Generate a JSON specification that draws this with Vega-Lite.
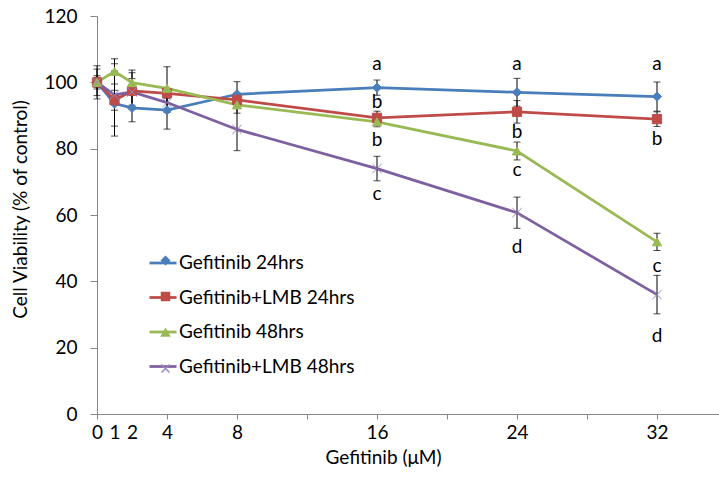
{
  "$schema": "https://vega.github.io/schema/vega-lite/v6.json",
  "width": 623,
  "height": 398,
  "autosize": "none",
  "padding": {"left": 97, "top": 16, "right": 0, "bottom": 64},
  "background": "white",
  "config": {
    "view": {"stroke": null},
    "font": "Lato",
    "axis": {
      "grid": false,
      "domainColor": "#868686",
      "tickColor": "#868686",
      "labelFont": "Lato",
      "labelFontSize": 19,
      "labelColor": "#000000",
      "titleFont": "Lato",
      "titleFontSize": 19,
      "titleFontWeight": "normal",
      "titleColor": "#000000"
    }
  },
  "datasets": {
    "pts": [
      {"s": "Gefitinib 24hrs", "x": 0, "y": 100, "lo": 95, "hi": 105},
      {"s": "Gefitinib 24hrs", "x": 1, "y": 93.6, "lo": 83.8, "hi": 103.4},
      {"s": "Gefitinib 24hrs", "x": 2, "y": 92.3, "lo": 88.1, "hi": 96.5},
      {"s": "Gefitinib 24hrs", "x": 4, "y": 91.6, "lo": 85.9, "hi": 97.3},
      {"s": "Gefitinib 24hrs", "x": 8, "y": 96.4, "lo": 92.6, "hi": 100.2},
      {"s": "Gefitinib 24hrs", "x": 16, "y": 98.4, "lo": 96.1, "hi": 100.7},
      {"s": "Gefitinib 24hrs", "x": 24, "y": 97.0, "lo": 92.8, "hi": 101.2},
      {"s": "Gefitinib 24hrs", "x": 32, "y": 95.7, "lo": 91.3, "hi": 100.1},
      {"s": "Gefitinib+LMB 24hrs", "x": 0, "y": 100, "lo": 96, "hi": 104},
      {"s": "Gefitinib+LMB 24hrs", "x": 1, "y": 94.6, "lo": 91.6, "hi": 97.6},
      {"s": "Gefitinib+LMB 24hrs", "x": 2, "y": 97.4, "lo": 91.9, "hi": 102.9},
      {"s": "Gefitinib+LMB 24hrs", "x": 4, "y": 96.7, "lo": 95.2, "hi": 98.2},
      {"s": "Gefitinib+LMB 24hrs", "x": 8, "y": 94.7, "lo": 92.7, "hi": 96.7},
      {"s": "Gefitinib+LMB 24hrs", "x": 16, "y": 89.3, "lo": 87.3, "hi": 91.3},
      {"s": "Gefitinib+LMB 24hrs", "x": 24, "y": 91.1, "lo": 87.7, "hi": 94.5},
      {"s": "Gefitinib+LMB 24hrs", "x": 32, "y": 88.9, "lo": 86.7, "hi": 91.1},
      {"s": "Gefitinib 48hrs", "x": 0, "y": 100, "lo": 98.5, "hi": 101.5},
      {"s": "Gefitinib 48hrs", "x": 1, "y": 103.3, "lo": 99.5, "hi": 107.1},
      {"s": "Gefitinib 48hrs", "x": 2, "y": 99.9, "lo": 96.1, "hi": 103.7},
      {"s": "Gefitinib 48hrs", "x": 4, "y": 98.2, "lo": 91.7, "hi": 104.7},
      {"s": "Gefitinib 48hrs", "x": 8, "y": 93.2, "lo": 90.7, "hi": 95.7},
      {"s": "Gefitinib 48hrs", "x": 16, "y": 88.1, "lo": 86.6, "hi": 89.6},
      {"s": "Gefitinib 48hrs", "x": 24, "y": 79.3, "lo": 76.6, "hi": 82.0},
      {"s": "Gefitinib 48hrs", "x": 32, "y": 51.9, "lo": 49.3, "hi": 54.5},
      {"s": "Gefitinib+LMB 48hrs", "x": 0, "y": 100, "lo": 98, "hi": 102},
      {"s": "Gefitinib+LMB 48hrs", "x": 1, "y": 96.2, "lo": 86.8, "hi": 105.6},
      {"s": "Gefitinib+LMB 48hrs", "x": 2, "y": 97.1, "lo": 93.1, "hi": 101.1},
      {"s": "Gefitinib+LMB 48hrs", "x": 4, "y": 93.9, "lo": 90.9, "hi": 96.9},
      {"s": "Gefitinib+LMB 48hrs", "x": 8, "y": 85.8, "lo": 79.4, "hi": 92.2},
      {"s": "Gefitinib+LMB 48hrs", "x": 16, "y": 74.0, "lo": 70.3, "hi": 77.7},
      {"s": "Gefitinib+LMB 48hrs", "x": 24, "y": 60.7, "lo": 56.0, "hi": 65.4},
      {"s": "Gefitinib+LMB 48hrs", "x": 32, "y": 36.0, "lo": 30.2, "hi": 41.8}
    ],
    "letters": [
      {"x": 16, "y": 103.7, "t": "a"},
      {"x": 16, "y": 92.4, "t": "b"},
      {"x": 16, "y": 80.9, "t": "b"},
      {"x": 16, "y": 64.5, "t": "c"},
      {"x": 24, "y": 103.7, "t": "a"},
      {"x": 24, "y": 83.1, "t": "b"},
      {"x": 24, "y": 71.7, "t": "c"},
      {"x": 24, "y": 48.6, "t": "d"},
      {"x": 32, "y": 103.7, "t": "a"},
      {"x": 32, "y": 81.1, "t": "b"},
      {"x": 32, "y": 42.8, "t": "c"},
      {"x": 32, "y": 21.7, "t": "d"}
    ]
  },
  "layer": [
    {
      "data": {"name": "pts"},
      "mark": {"type": "line", "strokeWidth": 2.75},
      "encoding": {
        "x": {
          "field": "x", "type": "quantitative",
          "scale": {"domain": [0, 35.6], "nice": false, "zero": false},
          "axis": {
            "values": [0, 1, 2, 4, 8, 12, 16, 20, 24, 28, 32],
            "labelExpr": "(datum.value == 12 || datum.value == 20 || datum.value == 28) ? '' : datum.label",
            "tickOpacity": {"condition": {"test": "datum.value == 1 || datum.value == 2", "value": 0}, "value": 1},
            "tickSize": 5,
            "labelPadding": 4,
            "labelOverlap": false,
            "labelFlush": false,
            "labelBound": false,
            "title": "Gefitinib (μM)",
            "titleX": 286,
            "titleY": 43,
            "titleBaseline": "middle"
          }
        },
        "y": {
          "field": "y", "type": "quantitative",
          "scale": {"domain": [0, 120], "nice": false},
          "axis": {
            "values": [0, 20, 40, 60, 80, 100, 120],
            "tickSize": 7,
            "labelPadding": 13,
            "title": "Cell Viability (% of control)",
            "titleX": -77,
            "titleY": 193,
            "titleAngle": 270,
            "titleBaseline": "middle"
          }
        },
        "color": {
          "field": "s", "type": "nominal",
          "sort": ["Gefitinib 24hrs", "Gefitinib+LMB 24hrs", "Gefitinib 48hrs", "Gefitinib+LMB 48hrs"],
          "scale": {"range": ["#4A7EBB", "#BE4B48", "#98B954", "#7D60A0"]},
          "legend": {
            "orient": "none",
            "legendX": 51,
            "legendY": 232,
            "title": null,
            "padding": 0,
            "labelFont": "Lato",
            "labelFontSize": 19,
            "labelColor": "#000000",
            "labelLimit": 400,
            "symbolType": "stroke",
            "symbolSize": 729,
            "symbolStrokeWidth": 2.75,
            "symbolOffset": 0,
            "labelOffset": 1,
            "rowPadding": 9.5
          }
        }
      }
    },
    {
      "data": {"name": "pts"},
      "mark": {"type": "errorbar", "ticks": {"size": 7, "color": "#000000", "thickness": 1}, "rule": {"color": "#000000", "strokeWidth": 1}},
      "encoding": {
        "x": {"field": "x", "type": "quantitative"},
        "y": {"field": "lo", "type": "quantitative", "title": "Cell Viability (% of control)"},
        "y2": {"field": "hi"}
      }
    },
    {
      "data": {"name": "pts"},
      "mark": {"type": "point", "filled": true, "size": 85, "strokeWidth": 1, "opacity": 1},
      "encoding": {
        "x": {"field": "x", "type": "quantitative"},
        "y": {"field": "y", "type": "quantitative"},
        "fill": {
          "field": "s", "type": "nominal",
          "scale": {
            "domain": ["Gefitinib 24hrs", "Gefitinib+LMB 24hrs", "Gefitinib 48hrs", "Gefitinib+LMB 48hrs"],
            "range": ["#4A7EBB", "#BE4B48", "#98B954", "#7D60A0"]
          },
          "legend": {
            "orient": "none",
            "legendX": 59,
            "legendY": 235,
            "title": null,
            "padding": 0,
            "labelExpr": "' '",
            "labelFont": "Lato",
            "labelFontSize": 19,
            "symbolSize": 64,
            "symbolStrokeWidth": 1.5,
            "symbolOffset": 0,
            "rowPadding": 16
          }
        },
        "shape": {
          "field": "s", "type": "nominal",
          "scale": {
            "domain": ["Gefitinib 24hrs", "Gefitinib+LMB 24hrs", "Gefitinib 48hrs", "Gefitinib+LMB 48hrs"],
            "range": ["diamond", "square", "triangle-up", "M-1,-1L1,1M-1,1L1,-1"]
          }
        },
        "stroke": {
          "field": "s", "type": "nominal",
          "scale": {
            "domain": ["Gefitinib 24hrs", "Gefitinib+LMB 24hrs", "Gefitinib 48hrs", "Gefitinib+LMB 48hrs"],
            "range": ["#4A7EBB", "#BE4B48", "#98B954", "#9A86C0"]
          }
        }
      }
    },
    {
      "data": {"name": "letters"},
      "mark": {"type": "text", "fontSize": 19, "font": "Lato", "baseline": "alphabetic", "align": "center", "color": "#000000"},
      "encoding": {
        "x": {"field": "x", "type": "quantitative"},
        "y": {"field": "y", "type": "quantitative"},
        "text": {"field": "t", "type": "nominal"}
      }
    }
  ]
}
